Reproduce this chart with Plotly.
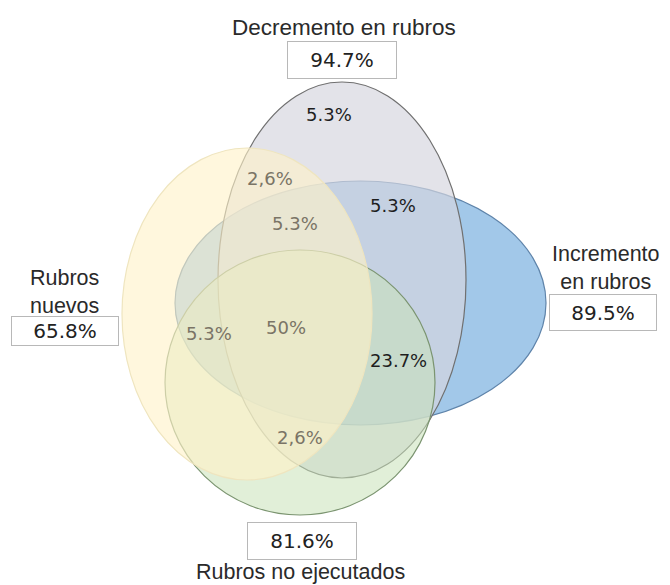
import plotly.graph_objects as go

# ---- data ----
set_names = ["Decremento en rubros", "Incremento<br>en rubros", "Rubros<br>nuevos", "Rubros no ejecutados"]
set_totals = ["94.7%", "89.5%", "65.8%", "81.6%"]
region_labels = ["5.3%", "2,6%", "5.3%", "5.3%", "5.3%", "50%", "23.7%", "2,6%"]
region_dark = [True, False, False, True, False, False, True, False]

# ---- layout geometry (pixel space) ----
W, H = 670, 585
# ellipses: (cx, cy, rx, ry, fill, line)
ellipses = [
    (360.5, 303, 185.5, 122, "rgba(162,200,233,1.0)", "#5f84aa"),   # Incremento (blue)
    (342, 280, 124, 198, "rgba(214,214,222,0.68)", "#707070"),      # Decremento (grey)
    (300, 382.5, 135, 132.5, "rgba(200,226,184,0.55)", "#7b9470"),  # No ejecutados (green)
    (247, 314, 125, 166, "rgba(255,242,200,0.62)", "#efe5bf"),      # Nuevos (yellow)
]
region_pos = [(329, 114), (270, 178), (295, 223), (393, 205), (209, 333), (286, 327), (398, 360), (300, 437)]

fig = go.Figure()
fig.add_trace(go.Scatter(x=[0, W], y=[0, H], mode="markers", marker=dict(opacity=0), hoverinfo="skip", showlegend=False))

for cx, cy, rx, ry, fc, lc in ellipses:
    fig.add_shape(type="circle", xref="x", yref="y", x0=cx - rx, x1=cx + rx, y0=cy - ry, y1=cy + ry,
                  fillcolor=fc, line=dict(color=lc, width=1.2), layer="above")

box_font = dict(family="DejaVu Sans, Verdana", size=20, color="#222222")

# set name labels (x, y centers, font size)
name_pos = [(344, 27, 22.5), (606, 268, 21.5), (64, 292, 21.5), (300, 572, 21.5)]
for (nx, ny, fs), t in zip(name_pos, set_names):
    fig.add_annotation(x=nx, y=ny, text=t, showarrow=False,
                       font=dict(family="Liberation Sans, Arial", size=fs, color="#2a2a2a"))

# total boxes: (cx, cy, w, h)
box_pos = [(342, 60, 108, 36), (603, 312, 106, 35), (65, 331, 106, 28), (302, 541, 108, 36)]
for (bx, by, bw, bh), t in zip(box_pos, set_totals):
    fig.add_annotation(x=bx, y=by, text=t, showarrow=False, font=box_font, width=bw, height=bh,
                       bordercolor="#b8b8b8", borderwidth=1, borderpad=0, bgcolor="white", valign="middle")

for (px, py), t, dark in zip(region_pos, region_labels, region_dark):
    fig.add_annotation(x=px, y=py, text=t, showarrow=False,
                       font=dict(family="DejaVu Sans, Verdana", size=18, color="#1e1e1e" if dark else "#7a7466"))

fig.update_xaxes(range=[0, W], visible=False, fixedrange=True)
fig.update_yaxes(range=[H, 0], visible=False, fixedrange=True)
fig.update_layout(width=W, height=H, margin=dict(l=0, r=0, t=0, b=0),
                  paper_bgcolor="white", plot_bgcolor="white", showlegend=False)
fig.write_html("out.html", config={"displayModeBar": False},
               post_script="document.body.style.margin='0';document.body.style.overflow='hidden';")
